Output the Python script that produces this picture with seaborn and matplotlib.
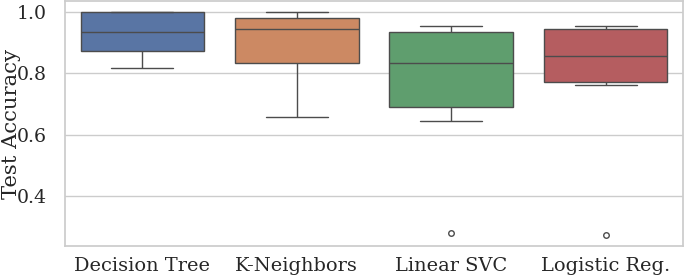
import matplotlib
matplotlib.use("Agg")
import matplotlib.pyplot as plt
import seaborn as sns
import pandas as pd

# per-fold test accuracies
models = ["Decision Tree", "K-Neighbors", "Linear SVC", "Logistic Reg."]
decision_tree = [0.817, 0.845, 0.872, 0.905, 0.936, 0.968, 1.0, 1.0, 1.0]
k_neighbors = [0.659, 0.760, 0.835, 0.900, 0.945, 0.965, 0.981, 0.990, 1.0]
linear_svc = [0.280, 0.645, 0.689, 0.760, 0.834, 0.900, 0.935, 0.945, 0.955]
logistic_reg = [0.272, 0.762, 0.772, 0.820, 0.856, 0.900, 0.944, 0.950, 0.954]

scores = [decision_tree, k_neighbors, linear_svc, logistic_reg]
df = pd.DataFrame({
    "Model": [m for m, s in zip(models, scores) for _ in s],
    "Test Accuracy": [v for s in scores for v in s],
})

sns.set_theme(style="whitegrid", font="serif", font_scale=1.27)
plt.rcParams["font.family"] = ["DejaVu Serif"]

fig, ax = plt.subplots(figsize=(6.85, 2.75), dpi=100)
sns.boxplot(data=df, x="Model", y="Test Accuracy", hue="Model",
            palette="deep", legend=False, fliersize=4, ax=ax)
ax.set_xlabel("")
ax.set_yticks([0.4, 0.6, 0.8, 1.0])
ax.tick_params(axis="x", pad=2)
ax.tick_params(axis="y", pad=7, labelsize=13.6)
# the reference crops the label slightly at the left edge
ax.yaxis.set_label_coords(-0.072, 0.5)
fig.subplots_adjust(left=0.095, right=0.997, bottom=0.105, top=0.996)
fig.savefig("out.png", dpi=100)
